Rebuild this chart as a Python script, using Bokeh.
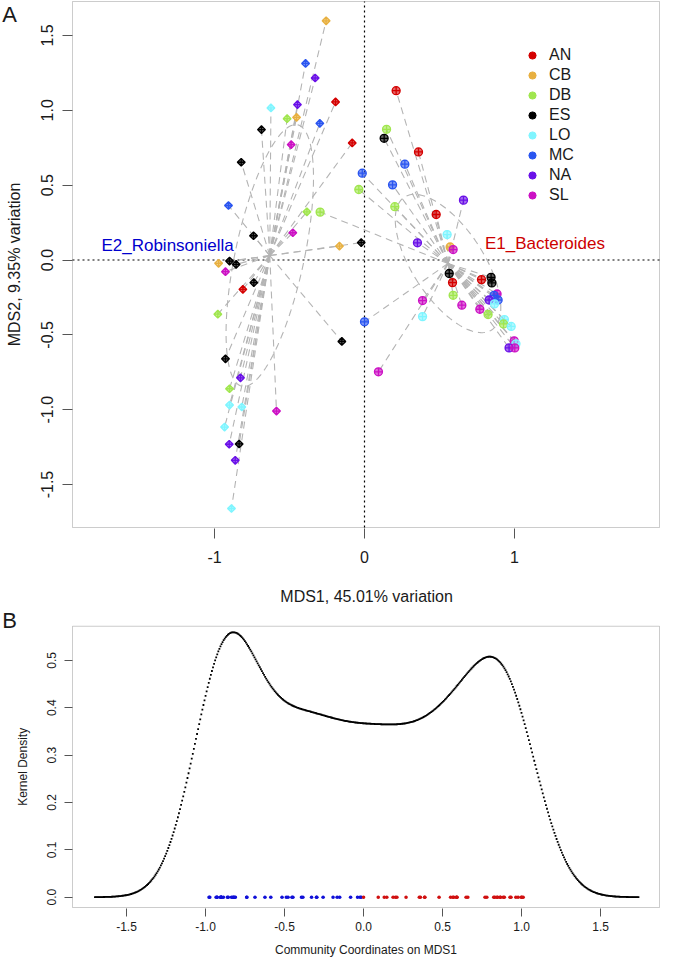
import numpy as np
from bokeh.plotting import figure
from bokeh.models import (Range1d, FixedTicker, Label, Legend, LegendItem,
                          ColumnDataSource, BoxAnnotation)
from bokeh.layouts import column
from bokeh.embed import file_html
from bokeh.resources import INLINE

FONT = "Liberation Sans"
NBSP = "\u00a0"

# ---------------- data ----------------
GROUPS = ["AN", "CB", "DB", "ES", "LO", "MC", "NA", "SL"]
GROUP_COLORS = ["#d40000", "#e8b040", "#a0e64e", "#000000",
                "#7ff5ff", "#2a55f0", "#6a10e8", "#cc10c4"]

# Enterotype E2 (Robinsoniella) samples, diamonds
E2_group = ["CB", "MC", "NA", "AN", "LO", "NA", "DB", "CB", "MC", "ES",
            "SL", "AN", "ES", "MC", "DB", "SL", "ES", "CB", "ES", "CB",
            "ES", "ES", "SL", "ES", "AN", "DB", "ES", "ES", "NA", "DB",
            "LO", "LO", "SL", "LO", "NA", "ES", "NA", "LO"]
E2_x = [-0.256, -0.393, -0.329, -0.193, -0.624, -0.447, -0.516, -0.453, -0.298, -0.687,
        -0.489, -0.082, -0.822, -0.907, -0.384, -0.478, -0.740, -0.167, -0.022, -0.973,
        -0.900, -0.856, -0.927, -0.738, -0.811, -0.978, -0.151, -0.927, -0.827, -0.900,
        -0.900, -0.818, -0.587, -0.933, -0.902, -0.836, -0.862, -0.887]
E2_y = [1.598, 1.313, 1.216, 1.056, 1.016, 1.038, 0.944, 0.953, 0.913, 0.871,
        0.771, 0.782, 0.653, 0.364, 0.322, 0.182, 0.162, 0.093, 0.116, -0.022,
        -0.007, -0.029, -0.078, -0.151, -0.196, -0.362, -0.544, -0.660, -0.787, -0.860,
        -0.969, -0.982, -1.009, -1.116, -1.231, -1.229, -1.338, -1.660]

# Enterotype E1 (Bacteroides) samples, circles
E1_group = ["AN", "DB", "ES", "AN", "MC", "MC", "MC", "DB", "NA", "DB",
            "DB", "AN", "LO", "NA", "CB", "SL", "ES", "AN", "DB", "SL",
            "AN", "ES", "ES", "SL", "MC", "MC", "NA", "LO", "SL", "DB",
            "SL", "LO", "LO", "DB", "LO", "SL", "LO", "NA", "SL", "SL", "MC"]
E1_x = [0.211, 0.147, 0.131, 0.360, 0.269, -0.015, 0.187, -0.038, 0.660, 0.202,
        -0.296, 0.478, 0.551, 0.353, 0.571, 0.591, 0.565, 0.587, 0.591, 0.649,
        0.780, 0.844, 0.849, 0.884, 0.864, 0.891, 0.831, 0.867, 0.769, 0.824,
        0.387, 0.387, 0.933, 0.927, 0.978, 0.998, 1.010, 0.964, 1.002, 0.093, 0.000]
E1_y = [1.131, 0.873, 0.813, 0.722, 0.640, 0.580, 0.502, 0.471, 0.400, 0.356,
        0.320, 0.304, 0.170, 0.115, 0.087, 0.070, -0.090, -0.151, -0.236, -0.302,
        -0.131, -0.116, -0.153, -0.227, -0.236, -0.267, -0.267, -0.293, -0.329, -0.364,
        -0.271, -0.378, -0.398, -0.427, -0.444, -0.540, -0.560, -0.587, -0.587, -0.747, -0.413]

CLUSTER_LABELS = ["E2_Robinsoniella", "E1_Bacteroides"]
CLUSTER_LABEL_COLORS = ["#0000cd", "#cd0000"]
PANEL_LABELS = ["A", "B"]

X_TICKS_A = [-1, 0, 1]
X_LABELS_A = ["-1", "0", "1"]
Y_TICKS_A = [-1.5, -1.0, -0.5, 0.0, 0.5, 1.0, 1.5]
Y_LABELS_A = ["-1.5", "-1.0", "-0.5", "0.0", "0.5", "1.0", "1.5"]
X_TICKS_B = [-1.5, -1.0, -0.5, 0.0, 0.5, 1.0, 1.5]
X_LABELS_B = ["-1.5", "-1.0", "-0.5", "0.0", "0.5", "1.0", "1.5"]
Y_TICKS_B = [0.0, 0.1, 0.2, 0.3, 0.4, 0.5]
Y_LABELS_B = ["0.0", "0.1", "0.2", "0.3", "0.4", "0.5"]

KDE_BANDWIDTH = 0.195
KDE_FROM, KDE_TO, KDE_N = -1.70, 1.74, 512
RUG_COLORS = ["#1010d8", "#d01010"]   # negative, positive MDS1

# ---------------- helpers ----------------
AXIS_GREY = "#555555"
TEXT_COL = "#1a1a1a"
W = 661           # figure width
BOX_L = 72        # left margin (px) from figure edge to plotting box
BOX_W = 587       # plotting box width (px)


def style(p, label_size, title_size, tick_len):
    p.grid.visible = False
    p.outline_line_color = None
    p.background_fill_color = "white"
    p.border_fill_color = "white"
    for ax in (p.xaxis[0], p.yaxis[0]):
        ax.axis_line_color = None
        ax.major_tick_line_color = AXIS_GREY
        ax.major_tick_out = tick_len
        ax.major_tick_in = 0
        ax.minor_tick_line_color = None
        ax.major_label_text_font = FONT
        ax.major_label_text_font_size = label_size
        ax.major_label_text_color = TEXT_COL
        ax.axis_label_text_font = FONT
        ax.axis_label_text_font_size = title_size
        ax.axis_label_text_font_style = "normal"
        ax.axis_label_text_color = TEXT_COL


def add_box(p, x0, x1, y0, y1):
    p.add_layout(BoxAnnotation(left=x0, right=x1, bottom=y0, top=y1,
                               fill_alpha=0, line_color=AXIS_GREY, line_width=1,
                               level="underlay"))


# ---------------- panel A ----------------
XA0, XA1, YA0, YA1 = -1.947, 1.967, -1.787, 1.727
HA, BOX_H_A, TOP_A, BOT_A = 608, 526, 1, 80
kxA = BOX_W / (XA1 - XA0)
kyA = BOX_H_A / (YA1 - YA0)
pA = figure(width=W, height=HA,
            x_range=Range1d(XA0 - BOX_L / kxA, XA1 + (W - BOX_L - BOX_W) / kxA),
            y_range=Range1d(YA0 - 1 / kyA, YA1 + TOP_A / kyA),
            output_backend="svg", toolbar_location=None, min_border_left=0,
            min_border_right=0, min_border_top=0, min_border_bottom=BOT_A)
style(pA, "16px", "16px", 10)
pA.xaxis.ticker = FixedTicker(ticks=X_TICKS_A)
pA.xaxis.major_label_overrides = dict(zip(X_TICKS_A, X_LABELS_A))
pA.yaxis.ticker = FixedTicker(ticks=Y_TICKS_A)
pA.yaxis.major_label_overrides = dict(zip(Y_TICKS_A, Y_LABELS_A))
pA.yaxis.major_label_orientation = "vertical"
pA.yaxis.fixed_location = XA0
pA.xaxis.major_label_standoff = 12
pA.yaxis.major_label_standoff = 9
# leading no-break spaces re-centre the title over the plotting box
pA.xaxis.axis_label = NBSP * 16 + "MDS1, 45.01% variation"
pA.yaxis.axis_label = "MDS2, 9.35% variation"
pA.xaxis.axis_label_standoff = 22
pA.yaxis.axis_label_standoff = 16
add_box(pA, XA0, XA1, YA0, YA1)

# dotted zero lines inside the plotting box
pA.segment(x0=[0, XA0], y0=[YA0, 0], x1=[0, XA1], y1=[YA1, 0],
           line_color="black", line_width=1.2, line_dash="2 3")

color_of = dict(zip(GROUPS, GROUP_COLORS))
clusters = [(E2_x, E2_y, E2_group), (E1_x, E1_y, E1_group)]
tt = np.linspace(0, 2 * np.pi, 160)
for xs, ys, gs in clusters:
    xs = np.asarray(xs)
    ys = np.asarray(ys)
    cx, cy = xs.mean(), ys.mean()
    src = ColumnDataSource(dict(x0=np.full(len(xs), cx), y0=np.full(len(xs), cy),
                                x1=xs, y1=ys))
    pA.segment("x0", "y0", "x1", "y1", source=src, line_color="#b4b4b4",
               line_width=1.1, line_dash="7 5")
    cov = np.cov(xs, ys)
    vals, vecs = np.linalg.eigh(cov)
    circ = np.vstack([np.cos(tt), np.sin(tt)])
    pts = vecs @ (np.sqrt(vals)[:, None] * circ)
    pA.line(cx + pts[0], cy + pts[1], line_color="#b4b4b4", line_width=1.1,
            line_dash="7 5")

srcE2 = ColumnDataSource(dict(x=E2_x, y=E2_y, c=[color_of[g] for g in E2_group]))
pA.scatter("x", "y", source=srcE2, marker="square_x", angle=np.pi / 4, size=5.5,
           fill_color="c", fill_alpha=0.6, line_color="c", line_width=1.3)
srcE1 = ColumnDataSource(dict(x=E1_x, y=E1_y, c=[color_of[g] for g in E1_group]))
pA.scatter("x", "y", source=srcE1, marker="circle_cross", size=8,
           fill_color="c", fill_alpha=0.6, line_color="c", line_width=1.3)

# cluster labels
pA.add_layout(Label(x=-1.313, y=0.10, text=CLUSTER_LABELS[0], text_align="center",
                    text_baseline="middle", text_font=FONT, text_font_size="17px",
                    text_color=CLUSTER_LABEL_COLORS[0]))
pA.add_layout(Label(x=1.203, y=0.107, text=CLUSTER_LABELS[1], text_align="center",
                    text_baseline="middle", text_font=FONT, text_font_size="17px",
                    text_color=CLUSTER_LABEL_COLORS[1]))

# legend
items = []
for g, c in zip(GROUPS, GROUP_COLORS):
    r = pA.scatter(x=[np.nan], y=[np.nan], marker="circle", size=7,
                   fill_color=c, line_color=c)
    items.append(LegendItem(label=g, renderers=[r]))
leg = Legend(items=items, location=(BOX_L + 451, 323), border_line_color=None,
             background_fill_alpha=0, padding=0, margin=0, spacing=0,
             glyph_width=18, glyph_height=20, label_height=20, label_standoff=8,
             label_text_font=FONT, label_text_font_size="16px",
             label_text_color=TEXT_COL)
pA.add_layout(leg)

pA.add_layout(Label(x=XA0 - (BOX_L - 9) / kxA, y=YA1 + (TOP_A - 1.5) / kyA,
                    text=PANEL_LABELS[0], text_align="center", text_baseline="top",
                    text_font=FONT, text_font_size="22px", text_color=TEXT_COL))

# ---------------- panel B ----------------
xs_all = np.asarray(E2_x + E1_x)
grid = np.linspace(KDE_FROM, KDE_TO, KDE_N)
dens = np.exp(-0.5 * ((grid[:, None] - xs_all[None, :]) / KDE_BANDWIDTH) ** 2).sum(axis=1)
dens /= len(xs_all) * KDE_BANDWIDTH * np.sqrt(2 * np.pi)

XB0, XB1, YB0, YB1 = -1.842, 1.873, -0.0218, 0.572
HB, BOX_H_B, TOP_B, BOT_B = 351, 285, 18, 47
kxB = BOX_W / (XB1 - XB0)
kyB = BOX_H_B / (YB1 - YB0)
pB = figure(width=W, height=HB,
            x_range=Range1d(XB0 - BOX_L / kxB, XB1 + (W - BOX_L - BOX_W) / kxB),
            y_range=Range1d(YB0 - 1 / kyB, YB1 + TOP_B / kyB),
            output_backend="svg", toolbar_location=None, min_border_left=0,
            min_border_right=0, min_border_top=0, min_border_bottom=BOT_B)
style(pB, "12px", "12px", 8)
pB.xaxis.ticker = FixedTicker(ticks=X_TICKS_B)
pB.xaxis.major_label_overrides = dict(zip(X_TICKS_B, X_LABELS_B))
pB.yaxis.ticker = FixedTicker(ticks=Y_TICKS_B)
pB.yaxis.major_label_overrides = dict(zip(Y_TICKS_B, Y_LABELS_B))
pB.yaxis.major_label_orientation = "vertical"
pB.yaxis.fixed_location = XB0
pB.xaxis.major_label_standoff = 5
pB.yaxis.major_label_standoff = 8
pB.xaxis.axis_label = NBSP * 21 + "Community Coordinates on MDS1"
pB.yaxis.axis_label = "Kernel Density" + NBSP * 5
pB.xaxis.axis_label_standoff = 9
pB.yaxis.axis_label_standoff = 15
add_box(pB, XB0, XB1, YB0, YB1)

pB.scatter(grid, dens, marker="square", size=1.8, fill_color="black", line_color=None)
rug_c = [RUG_COLORS[0] if v < 0 else RUG_COLORS[1] for v in xs_all]
pB.scatter(xs_all, np.zeros(len(xs_all)), marker="circle", size=3.6,
           fill_color=rug_c, line_color=None)

pB.add_layout(Label(x=XB0 - (BOX_L - 9) / kxB, y=YB1 + 6 / kyB, text=PANEL_LABELS[1],
                    text_align="center", text_baseline="middle", text_font=FONT,
                    text_font_size="22px", text_color=TEXT_COL))

layout = column(pA, pB, spacing=0)
open("out.html", "w").write(file_html(layout, INLINE))
